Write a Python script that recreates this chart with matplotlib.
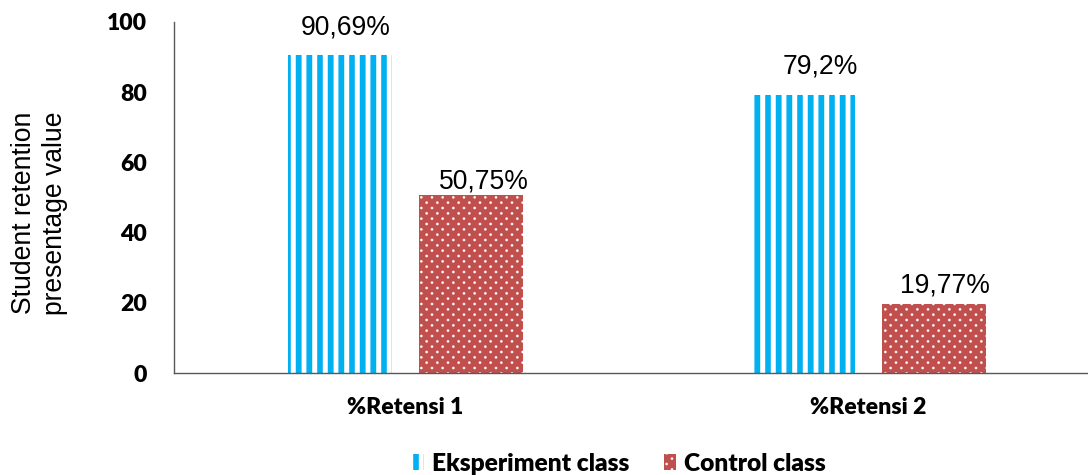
import numpy as np
import matplotlib
matplotlib.use("Agg")
import matplotlib.pyplot as plt
import matplotlib.hatch as mhatch
from matplotlib.path import Path

# ---- data -------------------------------------------------------------
categories = ["%Retensi 1", "%Retensi 2"]
series_names = ["Eksperiment class", "Control class"]
eksperiment = [90.69, 79.2]
control = [50.75, 19.77]
y_ticks = [0, 20, 40, 60, 80, 100]

# ---- styling ------------------------------------------------------------
DPI = 64
BLUE = "#00B0F0"
RED = "#C0504D"
AXIS_GREY = "#595959"
SANS = "Liberation Sans"
BOLD_FAMILY = "Lato"

# (dx, dy) of each value label in pixels, relative to its bar top
label_offsets = {
    "eks": [(5, 20), (17, 22)],
    "ctl": [(13, 6), (11, 11)],
}


# ---- custom fill textures ---------------------------------------------
class FilledStripes(mhatch.HatchPatternBase):
    """Solid vertical stripes for the '|' hatch character."""
    width = 0.084

    def __init__(self, hatch, density):
        self.n = hatch.count("|") * density
        self.num_vertices = (self.n + 1) * 5 if self.n else 0

    def set_vertices_and_codes(self, vertices, codes):
        w = self.width / 2
        parts, cparts = [], []
        rect_codes = [Path.MOVETO, Path.LINETO, Path.LINETO,
                      Path.LINETO, Path.CLOSEPOLY]
        for k in range(self.n + 1):
            x = k / self.n
            parts.append([[x - w, -0.1], [x + w, -0.1], [x + w, 1.1],
                          [x - w, 1.1], [x - w, -0.1]])
            cparts.append(rect_codes)
        vertices[:] = np.concatenate(parts)
        codes[:] = np.concatenate(cparts)


class StaggeredDots(mhatch.HatchPatternBase):
    """Small filled dots on a staggered grid for the '.' hatch character."""
    radius = 0.017

    def __init__(self, hatch, density):
        self.n = hatch.count(".") * density
        circ = Path.unit_circle()
        self.shape_vertices = circ.vertices * self.radius
        self.shape_codes = circ.codes
        if self.n:
            count = (self.n + 1) ** 2 + self.n ** 2
            self.num_vertices = count * len(self.shape_vertices)
        else:
            self.num_vertices = 0

    def set_vertices_and_codes(self, vertices, codes):
        n = self.n
        vparts, cparts = [], []
        for row in range(2 * n + 1):
            y = row / (2 * n)
            if row % 2 == 0:
                xs = np.linspace(0, 1, n + 1)
            else:
                xs = (np.arange(n) + 0.5) / n
            for x in xs:
                vparts.append(self.shape_vertices + [x, y])
                cparts.append(self.shape_codes)
        vertices[:] = np.concatenate(vparts)
        codes[:] = np.concatenate(cparts)


mhatch._hatch_types = [
    FilledStripes if t is mhatch.VerticalHatch else
    StaggeredDots if t is mhatch.SmallFilledCircles else t
    for t in mhatch._hatch_types
]
plt.rcParams["hatch.linewidth"] = 0.4


def px(v):
    """pixels -> points at the output resolution"""
    return v * 72.0 / DPI


fig = plt.figure(figsize=(1088 / DPI, 475 / DPI), dpi=DPI)
ax = fig.add_axes([174 / 1088, 1 - 373 / 475, 926 / 1088, 351 / 475])

x = np.arange(len(categories))
bar_w = 0.225
shift = 0.141

bars_e = ax.bar(x - shift, eksperiment, bar_w, facecolor="white",
                edgecolor=BLUE, linewidth=0, hatch="|",
                label=series_names[0])
bars_c = ax.bar(x + shift, control, bar_w, facecolor=RED,
                edgecolor="white", linewidth=0, hatch=".",
                label=series_names[1])

label_font = dict(family=SANS, fontsize=px(26.5), color="black")
for bars, vals, key in ((bars_e, eksperiment, "eks"),
                        (bars_c, control, "ctl")):
    for rect, v, (dx, dy) in zip(bars, vals, label_offsets[key]):
        ax.annotate(f"{v:g}%".replace(".", ","),
                    (rect.get_x() + rect.get_width() / 2, v),
                    xytext=(px(dx), px(dy)),
                    textcoords="offset points", ha="center",
                    va="baseline", **label_font)

ax.set_xlim(-0.5, 1.5)
ax.set_ylim(0, 100)
ax.set_yticks(y_ticks)
ax.set_xticks(x)
ax.set_xticklabels(categories)

for lab in ax.get_yticklabels() + ax.get_xticklabels():
    lab.set_fontfamily(BOLD_FAMILY)
    lab.set_fontweight("heavy")
    lab.set_fontsize(px(23))

ax.tick_params(axis="y", length=0, pad=px(27))
ax.tick_params(axis="x", length=0, pad=px(24))

for side in ("top", "right"):
    ax.spines[side].set_visible(False)
for side in ("left", "bottom"):
    ax.spines[side].set_color(AXIS_GREY)
    ax.spines[side].set_linewidth(px(1.4))

fig.text(40 / 1088, 1 - 213 / 475, "Student retention\npresentage value",
         rotation=90, ha="center", va="center", multialignment="center",
         family=SANS, fontsize=px(26.5), linespacing=1.25)

leg_fs = px(24.5)
fig.legend(handles=[bars_e, bars_c], labels=series_names,
           loc="center", bbox_to_anchor=(619 / 1088, 1 - 464 / 475),
           ncol=2, frameon=False,
           prop=dict(family=BOLD_FAMILY, weight="heavy", size=leg_fs),
           handlelength=px(12) / leg_fs, handleheight=px(15) / leg_fs,
           handletextpad=px(8) / leg_fs, columnspacing=px(34) / leg_fs,
           borderpad=0, borderaxespad=0)

fig.savefig("out.png", dpi=DPI)
